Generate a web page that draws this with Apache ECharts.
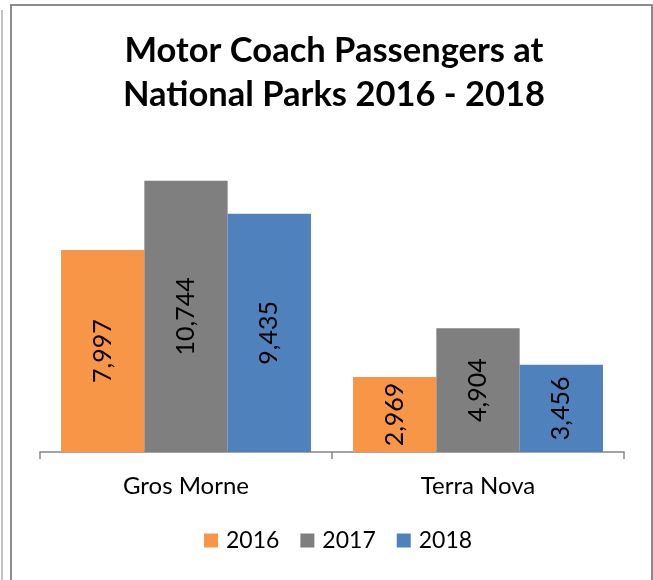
<!DOCTYPE html>
<html>
<head>
<meta charset="utf-8">
<script src="https://cdn.jsdelivr.net/npm/echarts@6/dist/echarts.min.js"></script>
<style>
  html, body { margin: 0; padding: 0; background: #fff; }
  #chart { width: 653px; height: 580px; }
</style>
</head>
<body>
<div id="chart"></div>
<script>
// chart data
var parks = ["Gros Morne", "Terra Nova"];
var years = ["2016", "2017", "2018"];
var values2016 = [7997, 2969];
var values2017 = [10744, 4904];
var values2018 = [9435, 3456];
var colors = ["#F79646", "#7F7F7F", "#4F81BD"];

function withCommas(n) {
  return String(n).replace(/\B(?=(\d{3})+(?!\d))/g, ",");
}

var chart = echarts.init(document.getElementById("chart"));

var seriesData = [values2016, values2017, values2018];
var series = [];
for (var i = 0; i < years.length; i++) {
  series.push({
    name: years[i],
    type: "bar",
    barGap: "0%",
    barCategoryGap: "14.4%",
    itemStyle: { color: colors[i] },
    label: {
      show: true,
      position: "inside",
      rotate: 90,
      color: "#000",
      fontFamily: "Lato",
      fontSize: 25,
      formatter: function(p) {
        return withCommas(p.value);
      }
    },
    data: seriesData[i]
  });
}

chart.setOption({
  animation: false,
  title: {
    text: "Motor Coach Passengers at\nNational Parks 2016 - 2018",
    left: 334,
    top: 29,
    padding: 0,
    textAlign: "center",
    textStyle: {
      fontFamily: "Lato",
      fontWeight: "bold",
      fontSize: 34.5,
      lineHeight: 44,
      color: "#000"
    }
  },
  legend: {
    data: years,
    left: 204,
    top: 529,
    padding: 0,
    icon: "rect",
    itemWidth: 14,
    itemHeight: 14,
    itemGap: 21,
    textStyle: {
      fontFamily: "Lato",
      fontSize: 23,
      color: "#000",
      padding: [0, 0, 0, 3]
    }
  },
  grid: {
    left: 40,
    right: 29,
    top: 149,
    bottom: 128
  },
  xAxis: {
    type: "category",
    data: parks,
    axisLine: { lineStyle: { color: "#878787", width: 1.5 } },
    axisTick: { show: true, length: 7, lineStyle: { color: "#878787", width: 1.5 } },
    axisLabel: {
      color: "#000",
      fontFamily: "Lato",
      fontSize: 24,
      margin: 22
    }
  },
  yAxis: {
    type: "value",
    min: 0,
    max: 12000,
    show: false,
    splitLine: { show: false }
  },
  graphic: [
    {
      type: "rect",
      shape: { x: 11, y: 5, width: 641, height: 700 },
      style: { fill: "none", stroke: "#8c8c8c", lineWidth: 2 }
    },
    {
      type: "line",
      shape: { x1: 2, y1: 10, x2: 2, y2: 600 },
      style: { stroke: "#c4c4c4", lineWidth: 2 }
    }
  ],
  series: series
});
</script>
</body>
</html>
